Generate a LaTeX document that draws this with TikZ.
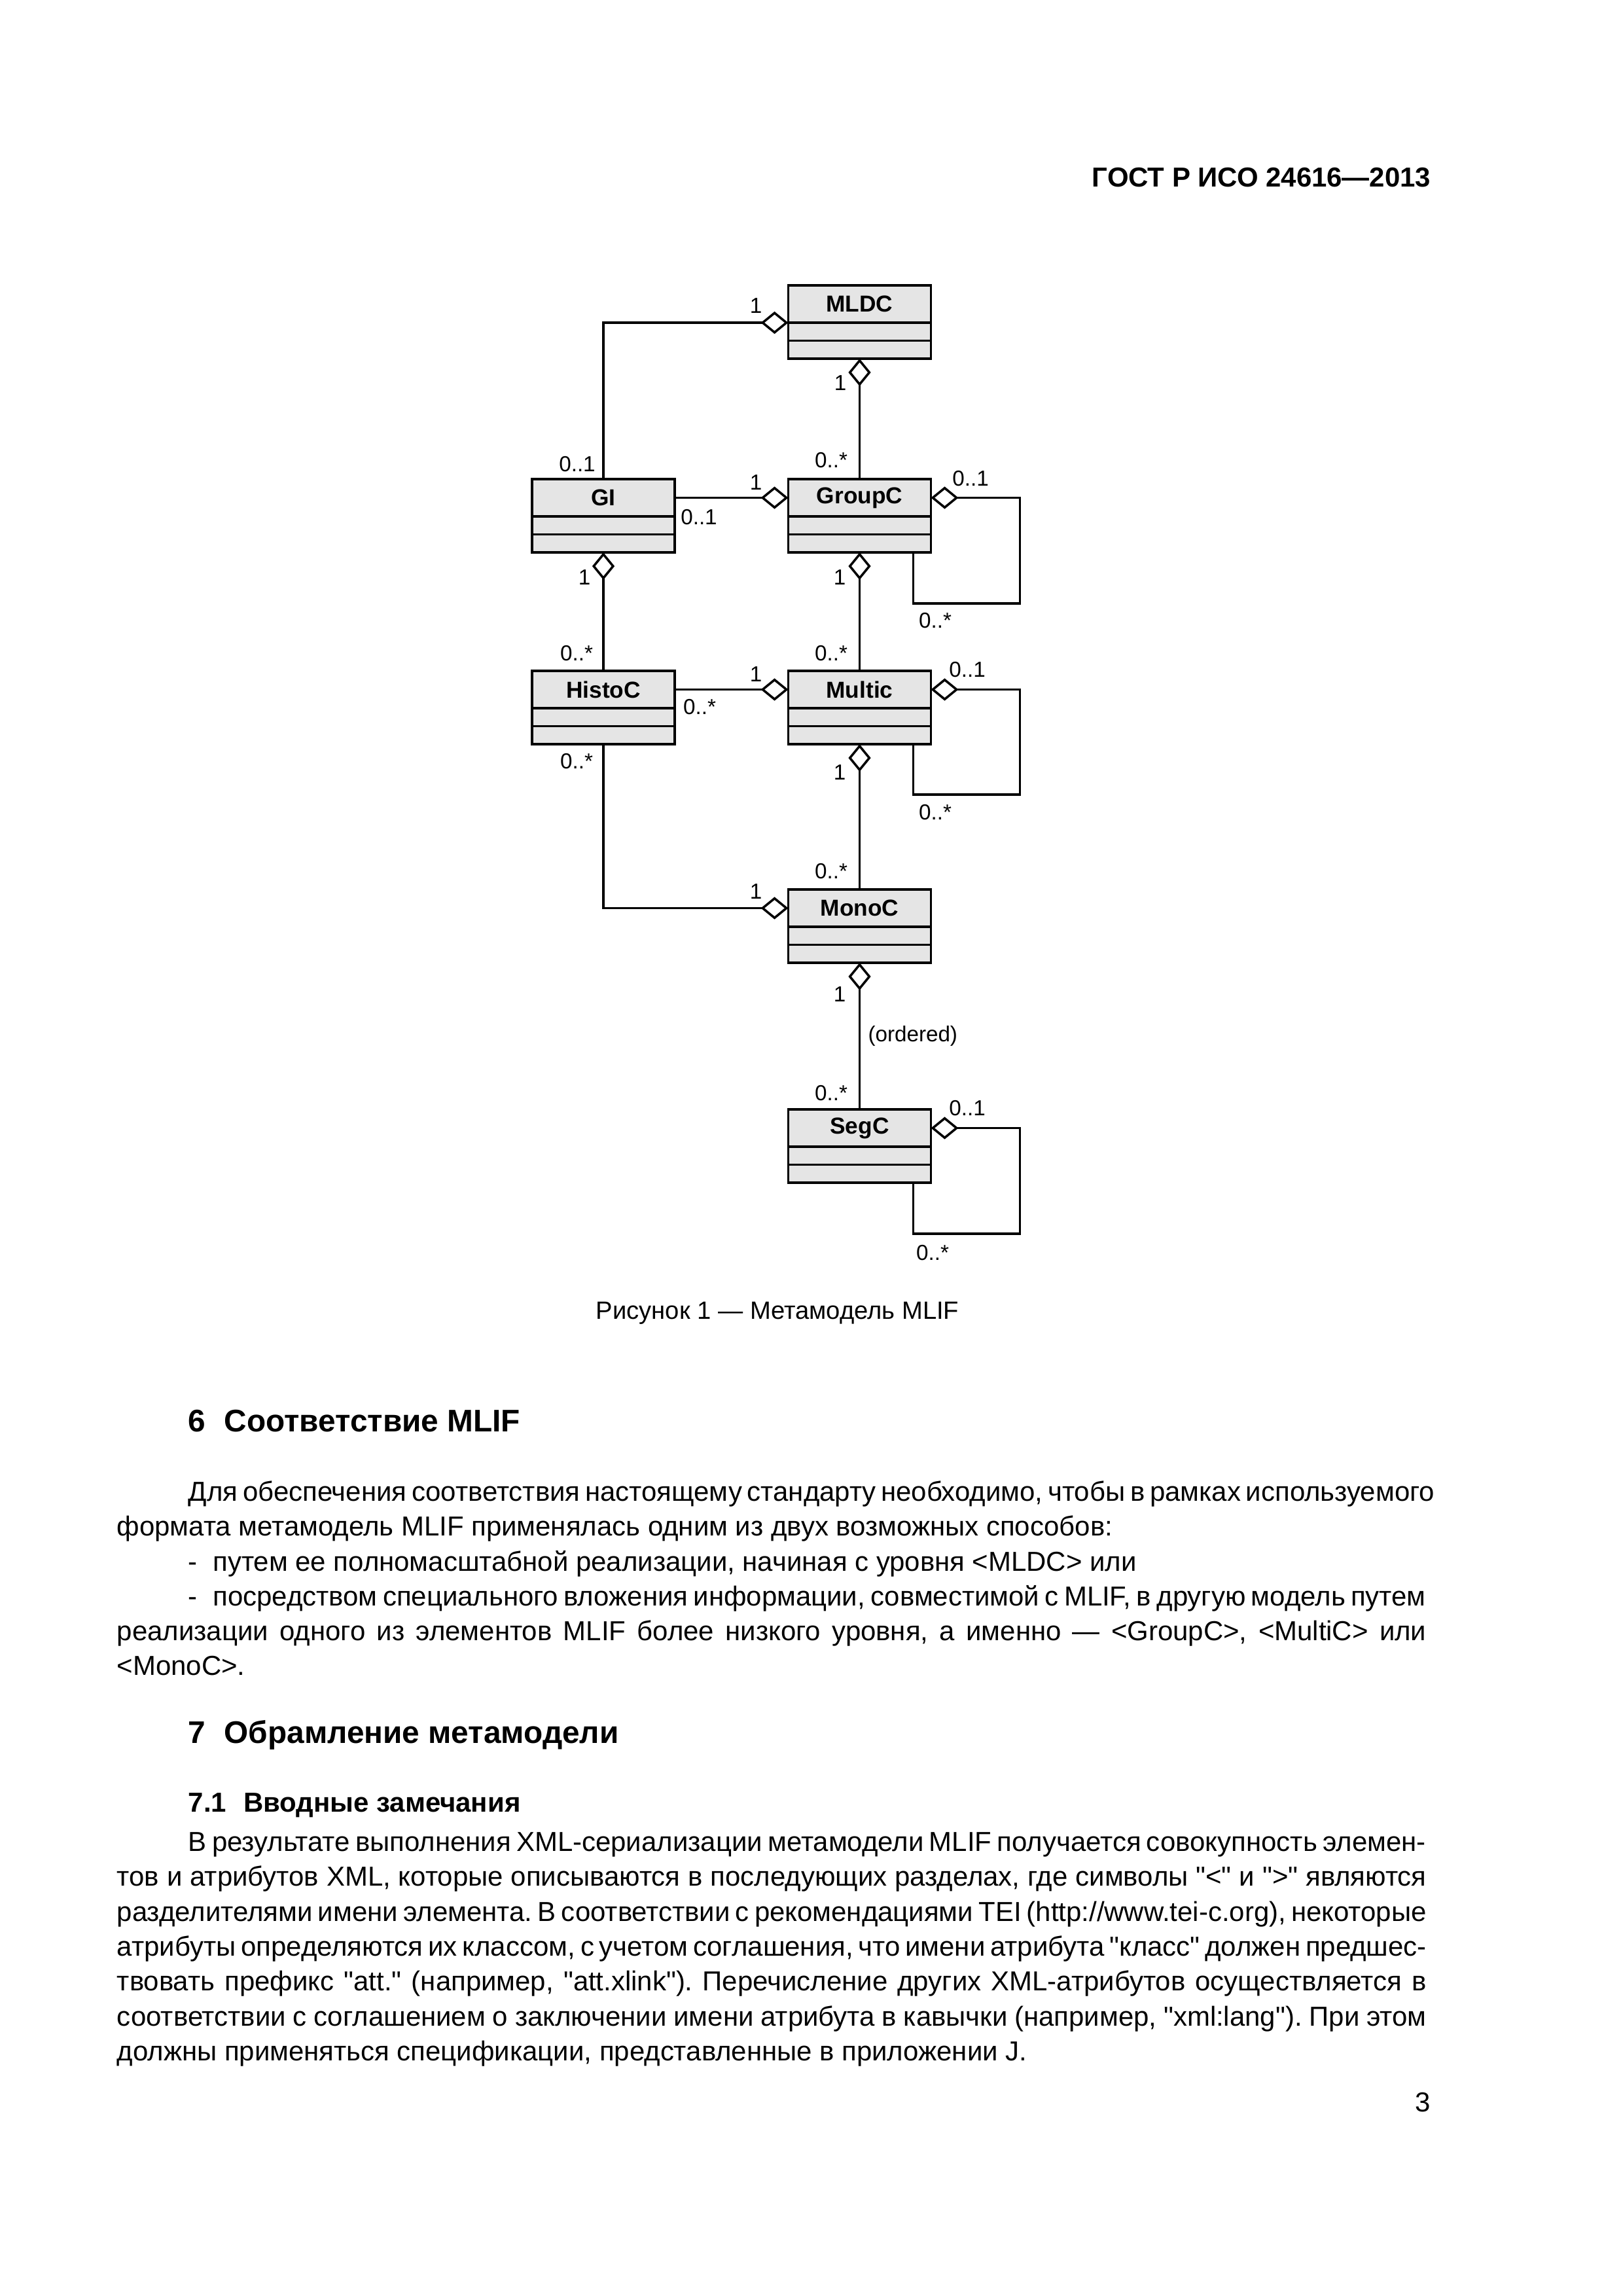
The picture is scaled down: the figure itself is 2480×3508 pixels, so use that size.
\documentclass[tikz,border=0pt]{standalone}
\usepackage{fontspec}
\setmainfont{Liberation Sans}
\usetikzlibrary{positioning,arrows.meta,calc}
\definecolor{clsfill}{gray}{0.9}
\newcommand{\fullline}[1]{\makebox[169.4mm][s]{#1}}
\newcommand{\indline}[1]{\makebox[160.1mm][s]{#1}}
\newcommand{\bodyfont}{\fontsize{10.1}{12.8}\selectfont}
\newcommand{\qt}{\textquotedbl}
\frenchspacing
\begin{document}
\begin{tikzpicture}[x=0.0846774mm,y=-0.0846774mm,
  cls/.style={draw,fill=clsfill,line width=0.85pt,minimum width=18.46mm,minimum height=4.83mm,
    inner sep=0pt,outer sep=0pt,font=\bfseries\fontsize{8.5}{10}\selectfont},
  cmp/.style={draw,fill=clsfill,line width=0.85pt,minimum width=18.46mm,minimum height=2.33mm,
    inner sep=0pt,outer sep=0pt},
  agg/.style={line width=0.85pt,-{Diamond[open,length=3.55mm,width=2.9mm]}},
  mult/.style={inner sep=0pt,font=\fontsize{8}{9.6}\selectfont},
  txt/.style={anchor=base west,inner sep=0pt,font=\bodyfont}]
\useasboundingbox (0,0) rectangle (2480,3508);
\fill[white] (0,0) rectangle (2480,3508);

% header
\node[anchor=base east,inner sep=0pt,font=\bfseries\fontsize{10.1}{12}\selectfont] (gost) at (2187,285) {ГОСТ Р ИСО 24616—2013};

% classes
\foreach \n/\x/\y in {MLDC/1313.5/464.5,GI/922/760.5,GroupC/1313.5/760.5,HistoC/922/1053.5,
  Multic/1313.5/1053.5,MonoC/1313.5/1387.5,SegC/1313.5/1723.5}{
  \node[cls] (\n) at (\x,\y) {\n};
  \node[cmp,below=0pt of \n] (\n-a) {};
  \node[cmp,below=0pt of \n-a] (\n-b) {};
}

% aggregations
\draw[agg] (GI.north) |- (MLDC.south west);
\draw[agg] (GroupC.north) -- (MLDC-b.south);
\draw[agg] (GI.east) -- (GroupC.west);
\draw[agg] ($(GroupC-b.south west)+(191,0)$) -- ++(0,78) -| ($(GroupC.east)+(136,0)$) -- (GroupC.east);
\draw[agg] (HistoC.north) -- (GI-b.south);
\draw[agg] (Multic.north) -- (GroupC-b.south);
\draw[agg] (HistoC.east) -- (Multic.west);
\draw[agg] ($(Multic-b.south west)+(191,0)$) -- ++(0,77) -| ($(Multic.east)+(136,0)$) -- (Multic.east);
\draw[agg] (HistoC-b.south) |- (MonoC.west);
\draw[agg] (MonoC.north) -- (Multic-b.south);
\draw[agg] (SegC.north) -- (MonoC-b.south) node[mult,midway,right=0.95mm] (ord) {(ordered)};
\draw[agg] ($(SegC-b.south west)+(191,0)$) -- ++(0,78) -| ($(SegC.east)+(136,0)$) -- (SegC.east);

% multiplicities
\node[mult] (m1) at (1155,467) {1};
\node[mult] (m2) at (882,709) {0..1};
\node[mult] (m3) at (1284,585) {1};
\node[mult] (m4) at (1270,703) {0..*};
\node[mult] (m5) at (1155,737) {1};
\node[mult] (m6) at (1068,790) {0..1};
\node[mult] (m7) at (1483,731) {0..1};
\node[mult] (m8) at (893,882) {1};
\node[mult] (m9) at (1283,882) {1};
\node[mult] (m10) at (1429,948) {0..*};
\node[mult] (m11) at (881,998) {0..*};
\node[mult] (m12) at (1270,998) {0..*};
\node[mult] (m13) at (1155,1030) {1};
\node[mult] (m14) at (1069,1080) {0..*};
\node[mult] (m15) at (1478,1023) {0..1};
\node[mult] (m16) at (1429,1241) {0..*};
\node[mult] (m17) at (881,1163) {0..*};
\node[mult] (m18) at (1283,1180) {1};
\node[mult] (m19) at (1270,1331) {0..*};
\node[mult] (m20) at (1155,1362) {1};
\node[mult] (m21) at (1283,1519) {1};
\node[mult] (m22) at (1270,1670) {0..*};
\node[mult] (m23) at (1478,1693) {0..1};
\node[mult] (m24) at (1425,1914) {0..*};

% caption
\node[anchor=base,inner sep=0pt,font=\fontsize{9.2}{11}\selectfont] (cap) at (1188,2015) {Рисунок 1 — Метамодель MLIF};

% section 6
\node[txt,font=\bfseries\fontsize{11.5}{14}\selectfont] (h6) at (287,2187) {6\hspace{2.4mm}Соответствие MLIF};
\node[txt] (p1) at (287,2293) {\indline{Для обеспечения соответствия настоящему стандарту необходимо, чтобы в рамках используемого}};
\node[txt] (p2) at (178,2346) {формата метамодель MLIF применялась одним из двух возможных способов:};
\node[txt] (p3) at (287,2400) {-\hspace{2mm}путем ее полномасштабной реализации, начиная с уровня <MLDC> или};
\node[txt] (p4) at (287,2453) {\indline{-\hspace{2mm}посредством специального вложения информации, совместимой с MLIF, в другую модель путем}};
\node[txt] (p5) at (178,2506) {\fullline{реализации одного из элементов MLIF более низкого уровня, а именно — <GroupC>, <MultiC> или}};
\node[txt] (p6) at (178,2559) {<MonoC>.};

% section 7
\node[txt,font=\bfseries\fontsize{11.5}{14}\selectfont] (h7) at (287,2663) {7\hspace{2.4mm}Обрамление метамодели};
\node[txt,font=\bfseries\bodyfont] (h71) at (287,2768) {7.1\hspace{2.2mm}Вводные замечания};
\node[txt] (q1) at (287,2828) {\indline{В результате выполнения XML-сериализации метамодели MLIF получается совокупность элемен-}};
\node[txt] (q2) at (178,2881) {\fullline{тов и атрибутов XML, которые описываются в последующих разделах, где символы \qt<\qt{} и \qt>\qt{} являются}};
\node[txt] (q3) at (178,2935) {\fullline{разделителями имени элемента. В соответствии с рекомендациями TEI (http://www.tei-c.org), некоторые}};
\node[txt] (q4) at (178,2988) {\fullline{атрибуты определяются их классом, с учетом соглашения, что имени атрибута \qt класс\qt{} должен предшес-}};
\node[txt] (q5) at (178,3041) {\fullline{твовать префикс \qt att.\qt{} (например, \qt att.xlink\qt). Перечисление других XML-атрибутов осуществляется в}};
\node[txt] (q6) at (178,3095) {\fullline{соответствии с соглашением о заключении имени атрибута в кавычки (например, \qt xml:lang\qt). При этом}};
\node[txt] (q7) at (178,3148) {должны применяться спецификации, представленные в приложении J.};

% page number
\node[anchor=base east,inner sep=0pt,font=\bodyfont] (pg) at (2187,3226) {3};
\end{tikzpicture}
\end{document}
